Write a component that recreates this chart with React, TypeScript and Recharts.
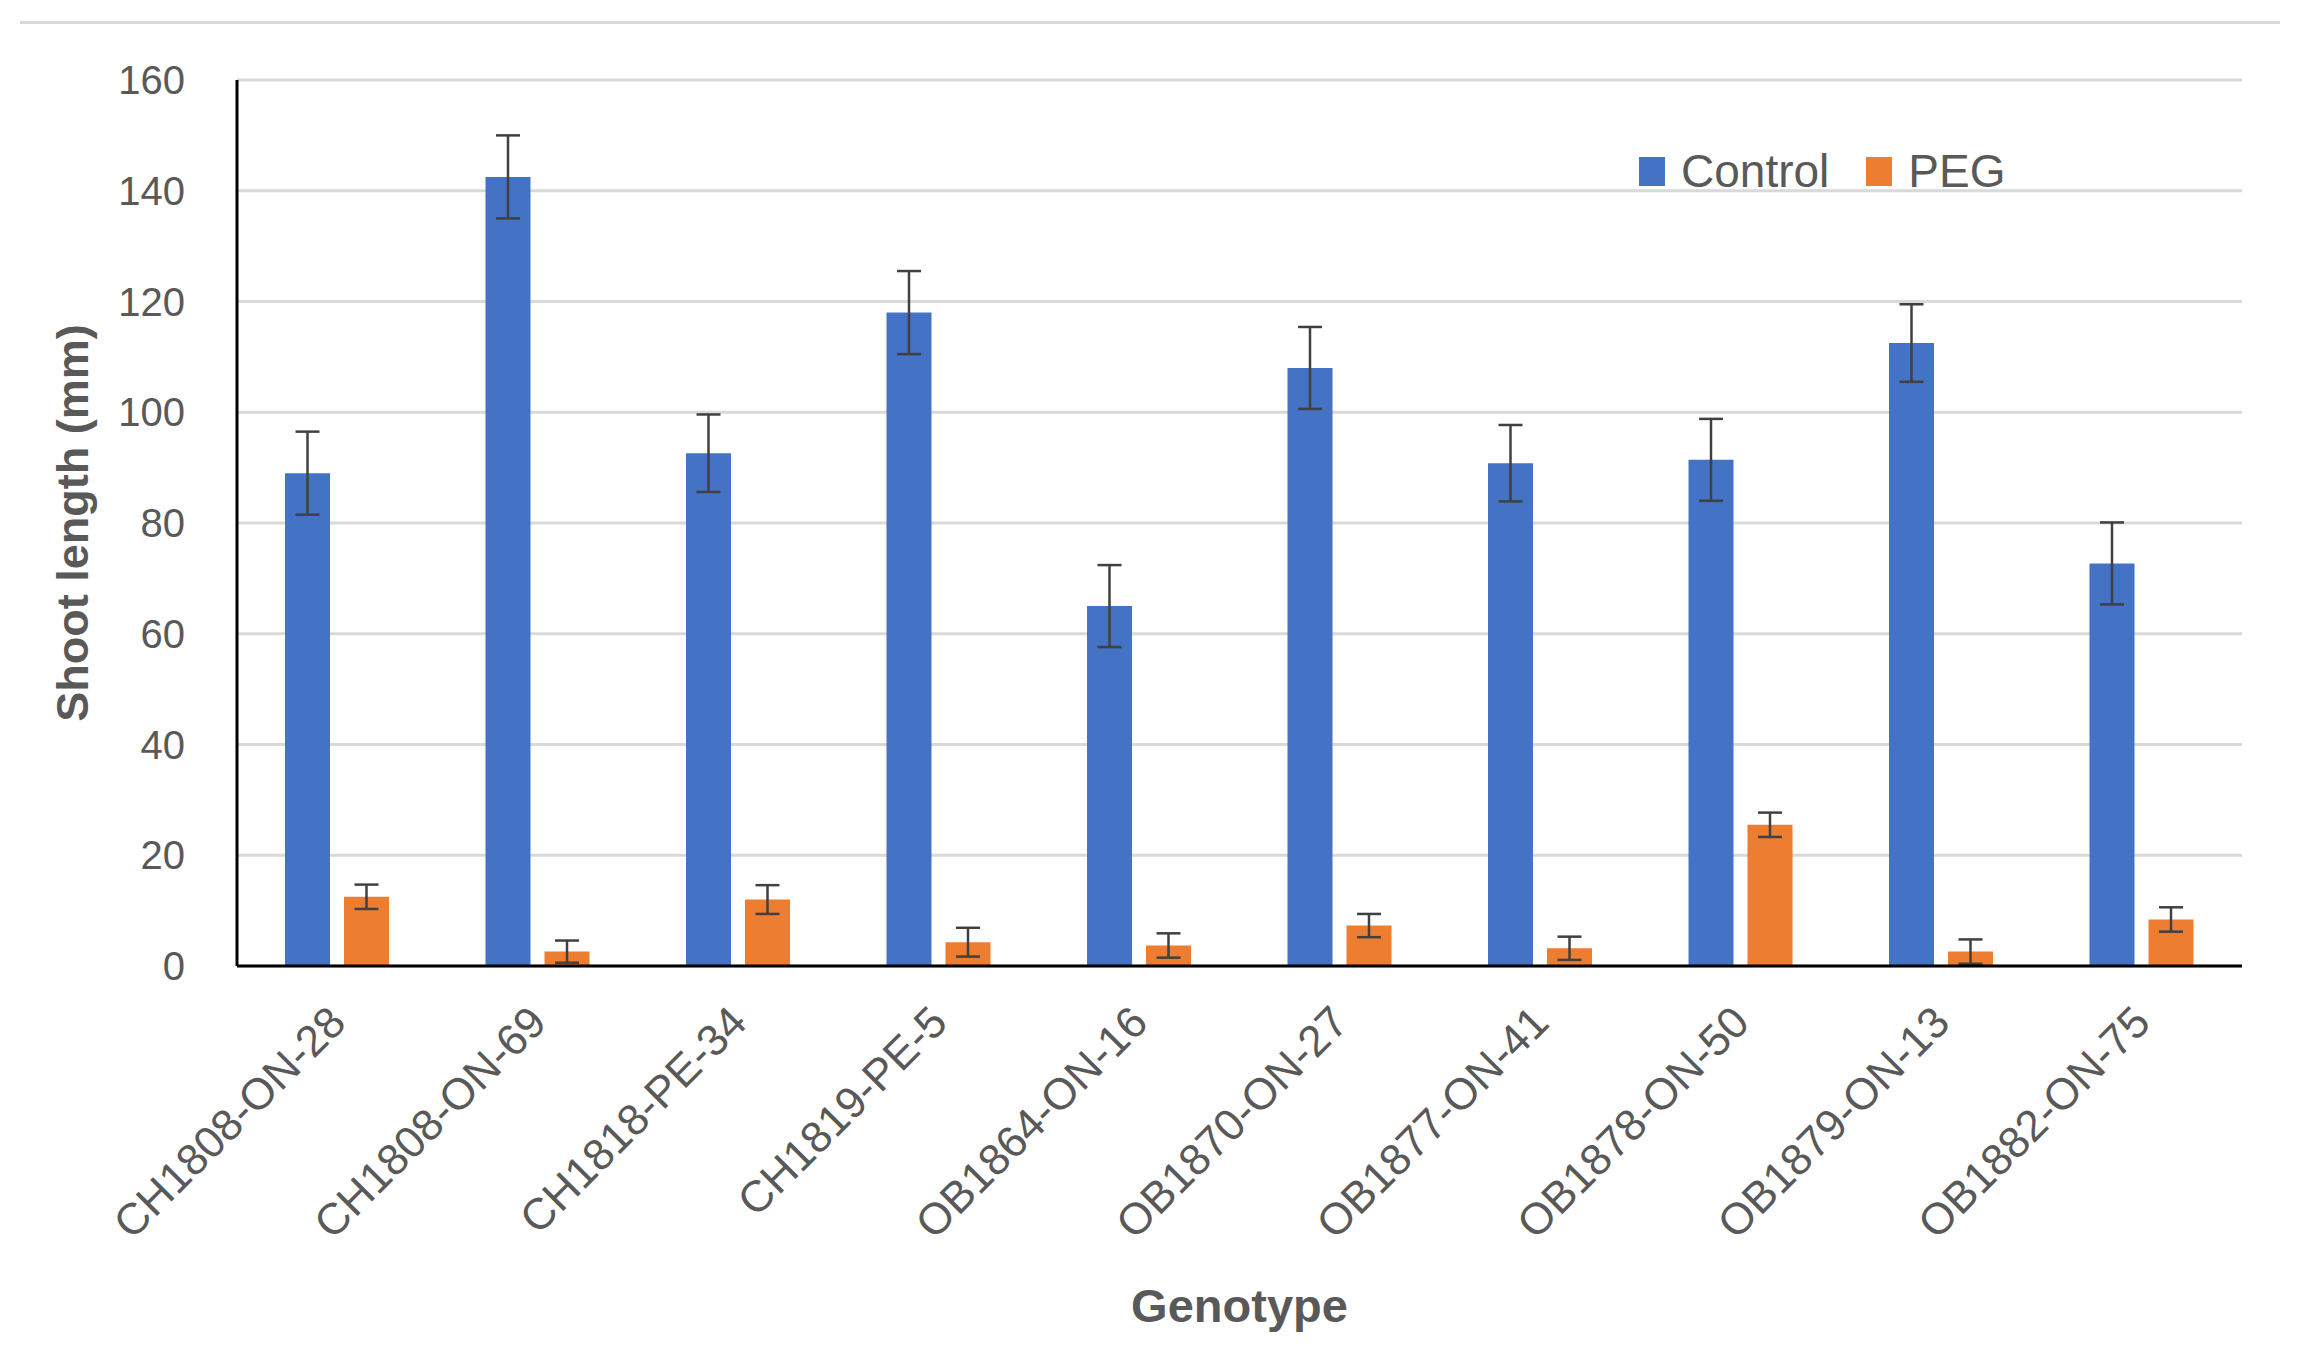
import { BarChart, Bar, XAxis, YAxis, CartesianGrid, Legend, ErrorBar, Label } from "recharts";

const genotypes = [
  "CH1808-ON-28",
  "CH1808-ON-69",
  "CH1818-PE-34",
  "CH1819-PE-5",
  "OB1864-ON-16",
  "OB1870-ON-27",
  "OB1877-ON-41",
  "OB1878-ON-50",
  "OB1879-ON-13",
  "OB1882-ON-75",
];
const controlMeans = [89, 142.5, 92.6, 118, 65, 108, 90.8, 91.4, 112.5, 72.7];
const controlErrors = [7.5, 7.5, 7, 7.5, 7.4, 7.4, 6.9, 7.4, 7, 7.4];
const pegMeans = [12.5, 2.6, 12, 4.3, 3.7, 7.3, 3.2, 25.5, 2.6, 8.4];
const pegErrors = [2.2, 2, 2.6, 2.6, 2.2, 2.1, 2.1, 2.2, 2.2, 2.2];
const yTicks = [0, 20, 40, 60, 80, 100, 120, 140, 160];

const data = genotypes.map((g, i) => ({
  genotype: g,
  control: controlMeans[i],
  controlErr: controlErrors[i],
  peg: pegMeans[i],
  pegErr: pegErrors[i],
}));

const FONT = '"Liberation Sans", Arial, sans-serif';
const TEXT = "#595959";

const GenotypeTick = (props: any) => {
  const { x, y, payload } = props;
  return (
    <g transform={`translate(${x},${y})`}>
      <text
        x={0}
        y={0}
        dy="0.35em"
        textAnchor="end"
        transform="rotate(-45)"
        fill={TEXT}
        fontSize={44}
        fontFamily={FONT}
      >
        {payload.value}
      </text>
    </g>
  );
};

// zero-height wrapper so the legend takes no room from the plot
const LegendBox = (props: any) => {
  const { payload } = props;
  return (
    <div style={{ height: 0, position: "relative" }}>
      <div style={{ position: "absolute", left: 0, top: 0, display: "flex", alignItems: "center", fontFamily: FONT, whiteSpace: "nowrap" }}>
        {payload.map((p: any) => (
          <div key={p.value} style={{ display: "flex", alignItems: "center", marginRight: 37 }}>
            <div style={{ width: 26, height: 29, background: p.color, marginRight: 16 }} />
            <span style={{ fontSize: 46, color: TEXT, lineHeight: "46px" }}>{p.value}</span>
          </div>
        ))}
      </div>
    </div>
  );
};

export default function App() {
  return (
    <div style={{ position: "absolute", left: 0, top: 0, width: 2300, height: 1350, background: "#fff" }}>
      <div style={{ position: "absolute", left: 20, top: 21, width: 2260, height: 3, background: "#D9D9D9" }} />
      <BarChart
        width={2300}
        height={1350}
        data={data}
        margin={{ top: 80, right: 58, left: 20, bottom: 0 }}
        barSize={45}
        barGap={14}
      >
        <CartesianGrid vertical={false} stroke="#D9D9D9" strokeWidth={3} />
        <XAxis
          dataKey="genotype"
          interval={0}
          height={384}
          tickLine={false}
          tickSize={0}
          tickMargin={48}
          axisLine={{ stroke: "#000", strokeWidth: 3 }}
          tick={<GenotypeTick />}
        >
          <Label
            value="Genotype"
            position="insideBottom"
            offset={28}
            style={{ fontSize: 47, fontWeight: "bold", fill: TEXT, fontFamily: FONT }}
          />
        </XAxis>
        <YAxis
          width={217}
          domain={[0, 160]}
          ticks={yTicks}
          tickLine={false}
          tickSize={0}
          tickMargin={52}
          axisLine={{ stroke: "#000", strokeWidth: 3 }}
          tick={{ fill: TEXT, fontSize: 40, fontFamily: FONT }}
        >
          <Label
            value="Shoot length (mm)"
            angle={-90}
            position="insideLeft"
            offset={52}
            style={{ textAnchor: "middle", fontSize: 45, fontWeight: "bold", fill: TEXT, fontFamily: FONT }}
          />
        </YAxis>
        <Legend
          content={<LegendBox />}
          wrapperStyle={{ position: "absolute", left: 1639, top: 148, width: "auto", height: 0 }}
        />
        <Bar dataKey="control" name="Control" fill="#4472C4" isAnimationActive={false}>
          <ErrorBar dataKey="controlErr" width={12} stroke="#404040" strokeWidth={2.5} direction="y" />
        </Bar>
        <Bar dataKey="peg" name="PEG" fill="#ED7D31" isAnimationActive={false}>
          <ErrorBar dataKey="pegErr" width={12} stroke="#404040" strokeWidth={2.5} direction="y" />
        </Bar>
      </BarChart>
    </div>
  );
}
